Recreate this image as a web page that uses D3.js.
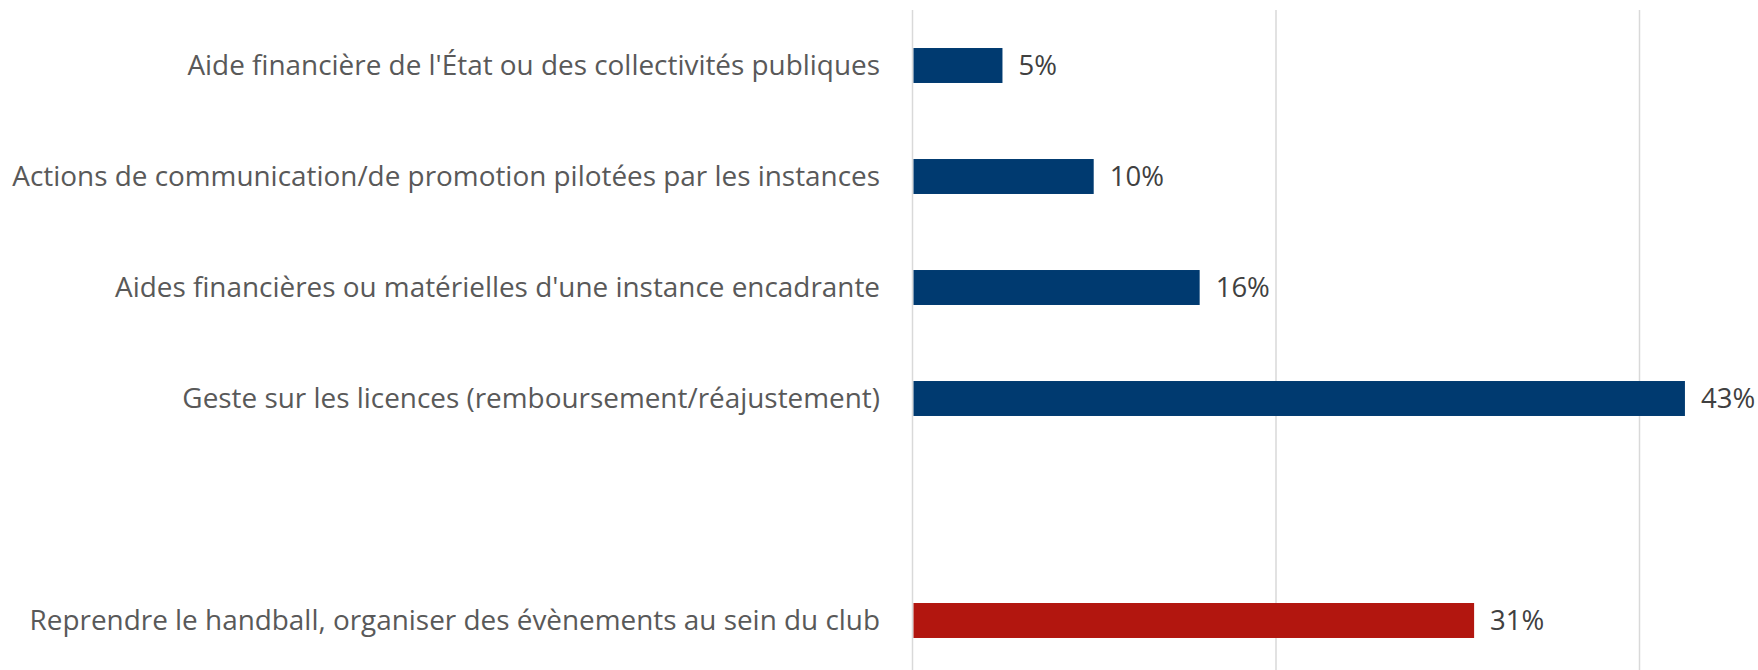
<!DOCTYPE html>
<html><head><meta charset="utf-8">
<script src="https://cdn.jsdelivr.net/npm/d3@7"></script>
<style>body{margin:0;background:#fff}svg{display:block}</style>
</head><body>
<svg id="c" width="1758" height="670"></svg>
<script>
const categories = [
  "Aide financière de l'État ou des collectivités publiques",
  "Actions de communication/de promotion pilotées par les instances",
  "Aides financières ou matérielles d'une instance encadrante",
  "Geste sur les licences (remboursement/réajustement)",
  "",
  "Reprendre le handball, organiser des évènements au sein du club"
];
const values = [0.0495, 0.0997, 0.158, 0.425, null, 0.309];
const valueLabels = ["5%", "10%", "16%", "43%", "", "31%"];
const barColors = ["#003A70", "#003A70", "#003A70", "#003A70", null, "#B2160F"];
const gridTicks = [0, 0.2, 0.4];

const svg = d3.select("#c");
const x = d3.scaleLinear().domain([0, 0.2]).range([912.5, 1276]);
const y = d3.scaleBand().domain(d3.range(categories.length)).range([10, 676]).paddingInner(0.685).paddingOuter(0.3425);

svg.append("g").selectAll("line").data(gridTicks).join("line")
  .attr("x1", d => x(d)).attr("x2", d => x(d))
  .attr("y1", 10).attr("y2", 670)
  .attr("stroke", "#D9D9D9").attr("stroke-width", 1.5);

const idx = d3.range(categories.length).filter(i => values[i] != null);

svg.append("g").selectAll("rect").data(idx).join("rect")
  .attr("x", x(0) + 1).attr("y", i => y(i))
  .attr("width", i => x(values[i]) - x(0) - 1)
  .attr("height", y.bandwidth())
  .attr("fill", i => barColors[i]);

svg.append("g").selectAll("text").data(idx).join("text")
  .attr("x", i => x(values[i]) + 16)
  .attr("y", i => y(i) + y.bandwidth() / 2)
  .attr("dy", "0.35em")
  .attr("font-family", "Open Sans, sans-serif").attr("font-size", 27.5)
  .attr("fill", "#404040")
  .text(i => valueLabels[i]);

svg.append("g").selectAll("text").data(idx).join("text")
  .attr("x", 880)
  .attr("y", i => y(i) + y.bandwidth() / 2)
  .attr("dy", "0.35em")
  .attr("text-anchor", "end")
  .attr("font-family", "Open Sans, sans-serif").attr("font-size", 27.9)
  .attr("fill", "#595959")
  .text(i => categories[i]);
</script>
</body></html>
